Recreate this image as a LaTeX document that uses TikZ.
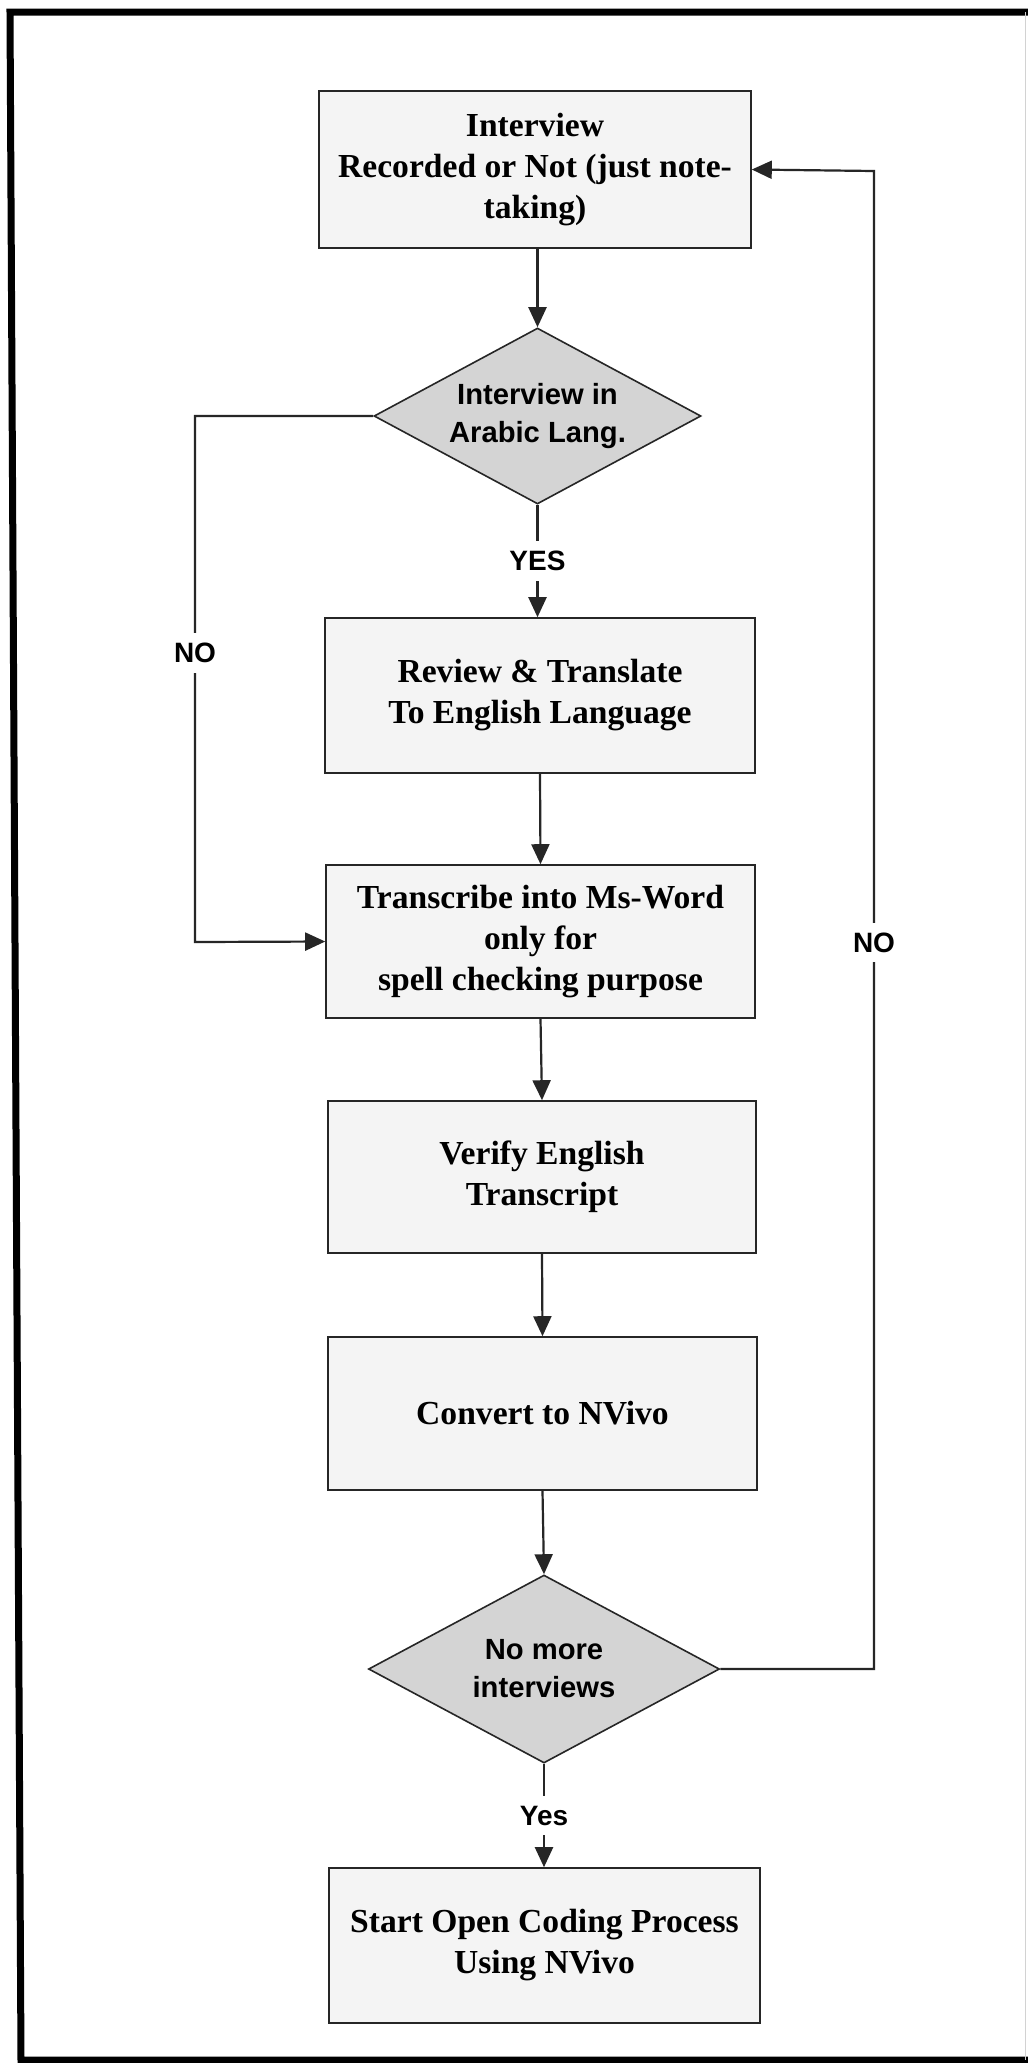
\documentclass[tikz,border=0pt]{standalone}
\usepackage{fontspec}
\setmainfont{Liberation Serif}
\newfontfamily\flowsans{Liberation Sans}
\usetikzlibrary{shapes.geometric,arrows.meta}
\definecolor{inkc}{HTML}{262626}
\definecolor{boxfill}{HTML}{F4F4F4}
\definecolor{diafill}{HTML}{D4D4D4}
\begin{document}
\begin{tikzpicture}[x=0.5pt,y=-0.5pt,
  procbox/.style={rectangle, draw=inkc, line width=0.8pt, fill=boxfill, align=center,
    inner sep=0pt, text=black, font=\bfseries\fontsize{16.8pt}{20.5pt}\selectfont},
  decision/.style={diamond, draw=inkc, line width=0.8pt, fill=diafill, inner sep=0pt},
  decisiontext/.style={align=center, inner sep=0pt, text=black,
    font=\flowsans\bfseries\fontsize{14.6pt}{19pt}\selectfont},
  flow/.style={draw=inkc, line width=1.1pt, -{Triangle[length=10pt,width=9pt]}},
  branch/.style={font=\flowsans\bfseries\fontsize{14pt}{16pt}\selectfont, fill=white,
    inner xsep=2pt, inner ysep=5pt, text=black}
]
\useasboundingbox (0,0) rectangle (1028,2063);
\fill[white] (0,0) rectangle (1028,2063);

% page frame
\draw[line width=3.5pt, line join=miter] (1028,12) -- (10,12) -- (21,2060) -- (1028,2060);
\draw[gray!35, line width=0.5pt] (1025,12) -- (1025,2060);

% process steps and decisions
\node[procbox, minimum width=216pt, minimum height=78.5pt] (b1) at (535,169.5)
  {Interview\\Recorded or Not (just note-\\taking)};
\node[decision, minimum width=163.5pt, minimum height=88pt] (d1) at (537.5,416) {};
\node[decisiontext] (d1t) at (d1.center) {Interview in\\Arabic Lang.};
\node[procbox, minimum width=215pt, minimum height=77.5pt] (b2) at (540,695.5)
  {Review \& Translate\\To English Language};
\node[procbox, minimum width=214.5pt, minimum height=76.5pt] (b3) at (540.5,941.5)
  {Transcribe into Ms-Word\\only for\\spell checking purpose};
\node[procbox, minimum width=214pt, minimum height=76pt] (b4) at (542,1177)
  {Verify English\\Transcript};
\node[procbox, minimum width=214.5pt, minimum height=76.5pt] (b5) at (542.5,1413.5)
  {Convert to NVivo};
\node[decision, minimum width=175.5pt, minimum height=94pt] (d2) at (544,1669) {};
\node[decisiontext] (d2t) at (d2.center) {No more\\interviews};
\node[procbox, minimum width=215.5pt, minimum height=77.5pt] (b6) at (544.5,1945.5)
  {Start Open Coding Process\\Using NVivo};

% main flow
\draw[flow] (d1.north |- b1.south) -- (d1.north);
\draw[flow] (d1.south) -- node[branch]{YES} (d1.south |- b2.north);
\draw[flow] (b2.south) -- (b3.north);
\draw[flow] (b3.south) -- (b4.north);
\draw[flow] (b4.south) -- (b5.north);
\draw[flow] (b5.south) -- (d2.north);
\draw[flow] (d2.south) -- node[branch]{Yes} (d2.south |- b6.north);

% bypass when the interview is not in Arabic
\coordinate (nl1) at (195,416);
\coordinate (nl2) at (195,942);
\draw[flow] (d1.west) -- (nl1) -- node[branch,pos=0.45]{NO} (nl2) -- (b3.west);

% loop back for the next interview
\coordinate (nr1) at (874,1669);
\coordinate (nr2) at (874,171);
\draw[flow] (d2.east) -- (nr1) -- node[branch,pos=0.485]{NO} (nr2) -- (b1.east);
\end{tikzpicture}
\end{document}
